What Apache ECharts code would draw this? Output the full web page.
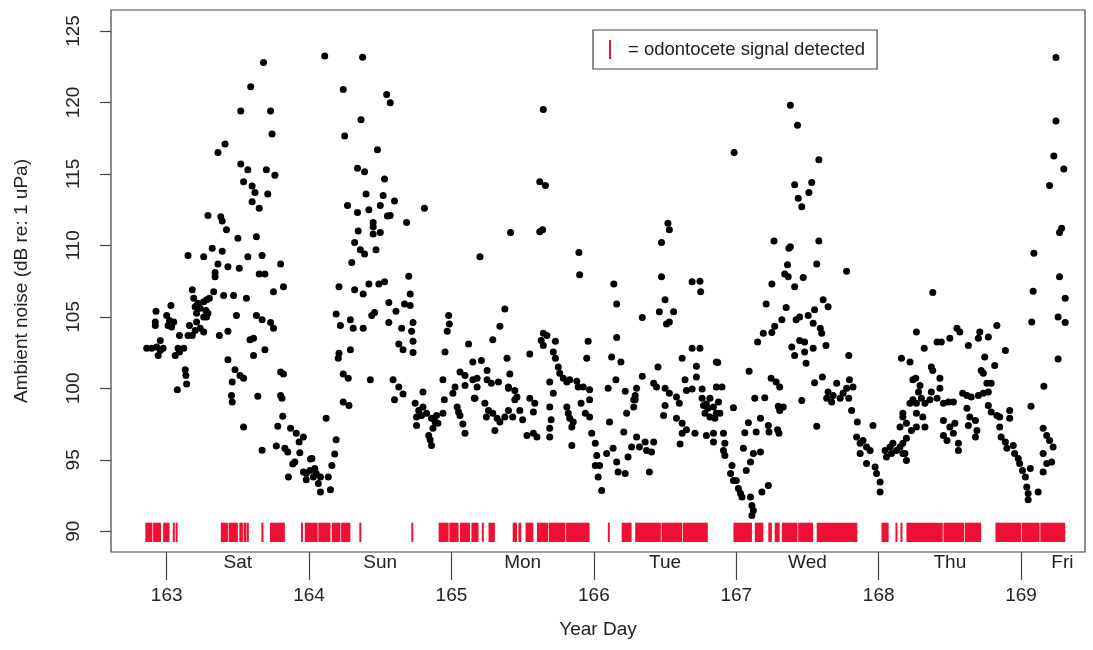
<!DOCTYPE html>
<html>
<head>
<meta charset="utf-8">
<script src="https://cdn.jsdelivr.net/npm/echarts@6/dist/echarts.min.js"></script>
<style>
    html, body { margin: 0; padding: 0; background: #fff; }
    #content { width: 1093px; height: 650px; }
</style>
</head>
<body>
<div id="content"></div>
<script>
// 坐标轴刻度
var xTicks = [163, 164, 165, 166, 167, 168, 169];
var yTicks = [90, 95, 100, 105, 110, 115, 120, 125];

// 星期标签及其位置（年日）
var dayNames = ["Sat", "Sun", "Mon", "Tue", "Wed", "Thu", "Fri"];
var dayPos = [163.5, 164.5, 165.5, 166.5, 167.5, 168.5, 169.29];

// 环境噪声 [年日, dB]
var pts163 = [
    [163.68,122.8],[163.59,121.1],[163.52,119.4],[163.73,119.4],[163.74,117.8],[163.41,117.1],[163.36,116.5],
    [163.52,115.7],[163.57,115.3],[163.70,115.3],[163.76,114.9],[163.54,114.45],[163.60,114.15],[163.62,113.7],
    [163.71,113.6],[163.60,113.05],[163.65,112.6],[163.29,112.1],[163.38,112.0],[163.39,111.7],[163.42,111.1],
    [163.50,110.5],[163.63,110.6],[163.15,109.3],[163.26,109.2],[163.32,109.8],[163.39,109.6],[163.36,108.7],
    [163.43,108.5],[163.51,108.4],[163.57,109.2],[163.67,109.3],[163.65,108.0],[163.69,108.0],[163.80,108.7],
    [163.34,108.1],[163.34,107.8],[163.75,106.75],[163.82,107.1],[163.18,106.9],[163.33,106.75],[163.40,106.5],
    [163.47,106.5],[163.56,106.3],[163.19,106.3],[163.22,105.95],[163.20,105.7],[163.235,105.6],[163.26,106.05],
    [163.28,106.2],[163.30,106.3],[163.275,105.45],[163.29,105.25],[163.21,105.25],[163.26,105.0],[163.28,105.0],
    [163.03,105.8],[162.925,105.4],[163.0,105.1],[163.02,104.75],[163.01,104.4],[163.05,104.65],[163.035,104.3],
    [162.92,104.65],[162.92,104.4],[163.16,104.4],[163.21,104.65],[163.235,104.2],[163.26,103.95],[163.2,104.05],
    [163.49,105.1],[163.63,105.1],[163.67,104.8],[163.73,104.6],[163.75,104.2],[163.37,103.7],[163.43,104.0],
    [163.09,103.7],[163.15,103.7],[163.18,103.7],[162.86,102.8],[162.895,102.8],[162.93,102.9],[162.955,102.65],
    [162.975,102.8],[162.94,102.3],[162.955,103.35],[163.06,102.3],[163.08,102.8],[163.12,102.8],[163.09,102.55],
    [163.585,103.4],[163.61,103.5],[163.61,102.3],[163.69,102.7],[163.43,102.0],[163.48,101.3],[163.515,100.9],
    [163.54,100.7],[163.46,100.45],[163.80,101.15],[163.82,101.0],[163.13,101.3],[163.135,100.9],[163.14,100.3],
    [163.075,99.9],[163.64,99.45],[163.455,99.5],[163.46,99.05],[163.80,99.5],[163.81,99.3],[163.815,98.05],
    [163.78,97.35],[163.87,97.2],[163.91,96.85],[163.96,96.6],[163.93,96.25],[163.54,97.3],[163.67,95.67],
    [163.77,95.97],[163.83,95.8],[163.85,95.55],[163.935,95.5],[163.885,94.7],[163.9,94.85],[163.855,93.8]
];
var pts164 = [
    [164.01,95.05],[163.96,94.15],[163.98,94.05],[164.005,94.25],[164.03,93.8],[164.05,94.05],[164.04,94.4],
    [164.065,93.35],[164.02,95.1],[163.98,93.6],[164.08,93.8],[164.08,92.75],[164.15,92.9],[164.135,93.8],
    [164.16,94.6],[164.18,95.4],[164.19,96.4],[164.12,97.9],[164.11,123.25],[164.376,123.16],[164.24,120.9],
    [164.545,120.55],[164.57,119.98],[164.365,118.8],[164.25,117.65],[164.48,116.7],[164.34,115.4],[164.39,115.15],
    [164.53,114.65],[164.40,113.6],[164.52,113.5],[164.60,113.1],[164.27,112.8],[164.34,112.3],[164.42,112.5],
    [164.50,112.8],[164.57,112.1],[164.55,112.05],[164.81,112.6],[164.685,111.6],[164.45,111.6],[164.45,111.3],
    [164.50,110.9],[164.45,110.8],[164.345,111.0],[164.32,110.2],[164.36,109.7],[164.39,109.4],[164.47,109.7],
    [164.30,108.8],[164.21,107.1],[164.32,106.9],[164.38,106.6],[164.42,107.3],[164.49,107.3],[164.53,107.45],
    [164.70,107.85],[164.71,106.6],[164.67,105.9],[164.71,105.8],[164.56,106.0],[164.61,105.4],[164.56,104.6],
    [164.46,105.3],[164.44,105.1],[164.19,105.2],[164.22,104.4],[164.29,104.8],[164.31,104.2],[164.38,104.2],
    [164.65,104.2],[164.73,104.6],[164.72,104.0],[164.73,103.3],[164.73,102.5],[164.63,103.1],[164.66,102.7],
    [164.98,105.1],[164.985,104.5],[164.97,104.0],[164.955,102.55],[164.94,100.6],[164.21,102.45],[164.205,102.1],
    [164.29,102.7],[164.24,101.0],[164.275,100.7],[164.43,100.6],[164.24,99.05],[164.28,98.8],[164.59,100.6],
    [164.63,100.1],[164.66,99.6],[164.60,99.2],[164.80,99.75],[164.745,98.95],[164.77,98.45],[164.80,98.7],
    [164.825,98.25],[164.755,98.0],[164.79,98.1],[164.755,97.4],[164.86,97.9],[164.885,97.65],[164.905,97.55],
    [164.87,97.2],[164.895,98.1],[164.84,96.7],[164.85,96.4],[164.86,96.0],[164.95,99.2],[164.94,98.25]
];
var pts165 = [
    [165.415,110.9],[165.20,109.2],[165.375,105.55],[165.34,104.35],[165.29,103.4],[165.39,102.1],[165.41,101.0],
    [165.40,100.1],[165.46,99.4],[165.12,103.1],[165.15,101.85],[165.21,101.95],[165.25,101.25],[165.18,100.7],
    [165.25,100.6],[165.28,100.35],[165.33,100.45],[165.06,101.15],[165.095,100.9],[165.025,100.1],[165.095,100.2],
    [165.15,100.6],[165.18,100.1],[165.165,99.3],[165.01,99.65],[165.04,98.7],[165.06,98.1],[165.095,96.85],
    [165.08,97.5],[165.05,98.35],[165.16,99.3],[165.235,98.95],[165.26,98.45],[165.245,98.0],[165.29,98.25],
    [165.32,97.9],[165.34,97.65],[165.375,98.0],[165.40,98.45],[165.43,98.0],[165.305,97.05],[165.445,99.2],
    [165.40,100.0],[165.645,119.5],[165.62,114.45],[165.66,114.2],[165.62,110.95],[165.64,111.1],[165.895,109.5],
    [165.90,107.95],[165.645,103.85],[165.67,103.7],[165.63,103.35],[165.645,103.0],[165.73,103.3],[165.55,102.4],
    [165.96,103.3],[165.95,102.1],[165.715,102.55],[165.73,102.1],[165.75,101.5],[165.76,101.05],[165.785,100.7],
    [165.81,100.45],[165.83,100.6],[165.88,100.5],[165.89,100.1],[165.925,100.1],[165.97,99.9],[165.97,99.2],
    [165.50,97.8],[165.53,96.7],[165.575,96.85],[165.585,98.95],[165.575,98.35],[165.60,96.6],[165.69,96.6],
    [165.55,99.3],[165.69,100.45],[165.715,99.65],[165.69,98.7],[165.70,97.8],[165.69,97.2],[165.81,98.7],
    [165.82,98.25],[165.83,97.9],[165.855,97.65],[165.845,97.3],[165.845,96.0],[165.91,98.95],[165.94,98.25],
    [165.97,98.0],[165.985,96.85],[165.48,98.45],[165.445,99.85]
];
var pts166 = [
    [166.01,96.15],[166.02,95.3],[166.04,94.6],[166.01,94.6],[166.03,93.8],[166.055,92.85],[166.09,95.45],
    [166.135,95.8],[166.17,94.15],[166.22,94.05],[166.16,94.85],[166.24,95.2],[166.265,95.9],[166.32,95.9],
    [166.36,96.25],[166.37,95.65],[166.405,95.55],[166.39,94.15],[166.42,96.25],[166.30,96.6],[166.21,96.95],
    [166.11,97.65],[166.23,98.25],[166.28,98.7],[166.29,99.2],[166.14,107.3],[166.16,105.9],[166.52,111.55],
    [166.53,111.1],[166.475,110.2],[166.475,107.8],[166.69,107.45],[166.745,107.5],[166.75,106.75],[166.50,106.2],
    [166.46,105.35],[166.56,105.35],[166.51,104.5],[166.53,104.65],[166.34,104.95],[166.16,103.55],[166.125,102.2],
    [166.19,101.85],[166.155,100.6],[166.10,100.0],[166.22,99.8],[166.34,100.85],[166.30,100.0],[166.28,99.2],
    [166.29,99.5],[166.45,101.5],[166.42,100.35],[166.44,100.1],[166.50,100.0],[166.53,99.65],[166.58,99.4],
    [166.60,98.95],[166.62,102.1],[166.72,101.55],[166.72,100.8],[166.69,102.8],[166.745,102.8],[166.64,100.6],
    [166.65,99.85],[166.69,99.95],[166.76,99.95],[166.79,98.9],[166.815,99.3],[166.86,101.85],[166.86,100.1],
    [166.50,98.8],[166.49,98.1],[166.58,97.9],[166.62,97.55],[166.62,96.85],[166.65,97.1],[166.71,96.85],
    [166.79,96.7],[166.84,96.25],[166.605,96.1],[166.76,99.3],[166.77,98.8],[166.80,98.6],[166.84,98.7],
    [166.86,98.25],[166.885,98.25],[166.875,99.05],[166.90,100.1],[166.85,97.9],[166.815,98.0],[166.78,98.25],
    [166.84,96.85],[166.91,96.85],[166.92,96.15],[166.91,95.65],[166.92,95.3],[166.97,94.6],[166.96,94.05],
    [166.98,93.55],[166.87,101.8],[166.985,116.5],[166.98,98.65]
];
var pts167 = [
    [167.00,93.55],[167.015,93.0],[167.03,92.65],[167.04,92.4],[167.10,92.4],[167.11,91.8],[167.12,91.45],
    [167.11,91.1],[167.18,92.75],[167.225,93.2],[167.05,95.8],[167.10,94.85],[167.12,95.45],[167.17,95.55],
    [167.07,94.25],[167.38,119.8],[167.43,118.4],[167.58,116.0],[167.41,114.25],[167.53,114.4],[167.51,113.7],
    [167.435,113.3],[167.46,112.7],[167.265,110.3],[167.38,109.9],[167.37,109.8],[167.58,110.3],[167.565,108.7],
    [167.775,108.2],[167.36,108.65],[167.34,108.0],[167.365,107.8],[167.25,107.3],[167.41,107.1],[167.47,107.75],
    [167.21,105.9],[167.35,105.65],[167.445,105.0],[167.42,104.8],[167.505,105.1],[167.55,105.5],[167.61,106.2],
    [167.645,105.7],[167.32,104.8],[167.27,104.35],[167.19,103.85],[167.25,103.9],[167.15,103.25],[167.54,104.55],
    [167.59,104.2],[167.60,103.85],[167.445,103.35],[167.48,103.25],[167.39,102.9],[167.41,102.3],[167.48,102.55],
    [167.54,102.8],[167.49,101.75],[167.63,103.0],[167.09,101.2],[167.245,100.7],[167.28,100.45],[167.305,100.1],
    [167.79,102.3],[167.795,100.6],[167.82,100.1],[167.775,100.0],[167.75,99.65],[167.705,100.35],[167.73,99.3],
    [167.68,99.5],[167.645,99.75],[167.635,99.3],[167.67,99.05],[167.79,99.3],[167.81,98.45],[167.85,97.65],
    [167.55,100.4],[167.605,100.8],[167.46,99.15],[167.565,97.35],[167.13,99.3],[167.20,99.35],[167.305,98.45],
    [167.295,98.75],[167.33,98.7],[167.17,97.9],[167.085,97.6],[167.06,96.9],[167.14,96.95],[167.225,97.4],
    [167.23,96.95],[167.30,96.85],[167.29,97.1],[167.96,97.4],[167.845,96.6],[167.87,96.15],[167.89,96.35],
    [167.915,95.9],[167.94,95.65],[167.87,95.45],[167.915,94.75],[167.975,94.5],[167.985,94.05]
];
var pts168 = [
    [168.01,93.45],[168.01,92.75],[168.045,95.65],[168.08,95.9],[168.10,96.15],[168.055,95.2],[168.09,95.45],
    [168.125,95.65],[168.15,95.9],[168.17,95.45],[168.195,94.95],[168.15,97.3],[168.17,98.25],[168.22,101.85],
    [168.265,103.95],[168.24,100.6],[168.24,99.2],[168.265,98.25],[168.265,97.3],[168.195,97.55],[168.16,102.1],
    [168.38,106.7],[168.32,102.8],[168.41,103.25],[168.44,103.25],[168.50,103.5],[168.55,104.2],[168.57,103.95],
    [168.63,103.0],[168.70,103.5],[168.71,103.95],[168.77,103.6],[168.83,104.4],[168.89,102.65],[168.745,102.2],
    [168.815,101.6],[168.26,100.7],[168.37,101.5],[168.38,101.25],[168.43,100.7],[168.43,100.0],[168.37,99.75],
    [168.29,100.2],[168.28,99.75],[168.22,98.95],[168.265,98.95],[168.30,99.3],[168.325,98.95],[168.36,99.2],
    [168.41,99.3],[168.455,98.95],[168.49,99.05],[168.525,99.05],[168.59,99.65],[168.62,99.5],[168.65,99.4],
    [168.70,99.5],[168.735,99.65],[168.77,99.75],[168.79,100.35],[168.735,101.05],[168.76,100.35],[168.72,101.25],
    [168.17,98.0],[168.23,97.05],[168.195,96.5],[168.17,96.15],[168.185,95.45],[168.31,98.0],[168.325,97.3],
    [168.455,97.75],[168.50,97.3],[168.535,97.55],[168.525,96.85],[168.455,96.7],[168.48,96.35],[168.56,96.15],
    [168.56,95.65],[168.62,98.6],[168.64,98.0],[168.63,97.4],[168.68,97.75],[168.69,97.05],[168.68,96.6],
    [168.77,98.8],[168.79,98.35],[168.83,98.1],[168.85,98.0],[168.92,98.45],[168.92,97.9],[168.85,97.3],
    [168.86,96.6],[168.89,96.25],[168.90,95.8],[168.945,96.0],[168.955,95.45],[168.98,95.1],[168.99,94.75]
];
var pts169 = [
    [169.01,94.25],[169.03,93.8],[169.04,93.1],[169.05,92.65],[169.05,92.2],[169.12,92.75],[169.155,97.2],
    [169.18,96.7],[169.20,96.35],[169.225,95.9],[169.215,94.85],[169.155,95.45],[169.18,94.75],[169.155,94.15],
    [169.065,94.4],[169.245,123.15],[169.245,118.7],[169.23,116.25],[169.30,115.35],[169.20,114.2],[169.285,111.2],
    [169.27,110.9],[169.09,109.45],[169.27,107.8],[169.085,106.8],[169.075,104.65],[169.31,106.3],[169.26,105.0],
    [169.31,104.6],[169.26,102.05],[169.16,100.15],[169.07,98.75]
];

// 检测到齿鲸信号的时间段 [开始, 结束]
var detections = [
    [162.85,162.90],[162.905,162.96],[162.975,163.02],[163.05,163.05],[163.07,163.07],
    [163.38,163.43],[163.435,163.50],[163.51,163.535],[163.54,163.56],[163.57,163.57],[163.665,163.68],[163.725,163.83],
    [163.95,163.95],[163.97,164.06],[164.065,164.15],[164.16,164.22],[164.225,164.29],[164.36,164.36],
    [164.725,164.725],
    [164.91,164.98],[164.985,165.05],[165.06,165.13],[165.14,165.19],[165.22,165.22],[165.26,165.305],
    [165.43,165.46],[165.47,165.49],[165.52,165.575],[165.60,165.68],[165.685,165.80],[165.805,165.97],
    [166.105,166.105],[166.195,166.265],[166.29,166.47],[166.475,166.62],[166.625,166.80],
    [166.98,167.11],[167.13,167.19],[167.225,167.25],[167.27,167.305],[167.32,167.43],[167.435,167.54],[167.565,167.85],
    [168.02,168.07],[168.125,168.125],[168.16,168.16],[168.195,168.45],[168.455,168.60],[168.605,168.72],
    [168.82,169.00],[169.005,169.13],[169.135,169.31]
];

var X_MIN = 162.609, X_MAX = 169.449;
var Y_MIN = 88.55, Y_MAX = 126.47;
var RUG_LOW = 89.25, RUG_HIGH = 90.6;
var FONT = "Liberation Sans";
var RED = "#ee1133";
var legendName = "= odontocete signal detected";

var noise = [].concat(pts163, pts164, pts165, pts166, pts167, pts168, pts169);
var dayData = dayPos.map(function(p, i) { return [p, Y_MIN, i]; });

window.onload = function() {
    var myChart = echarts.init(document.getElementById("content"), null, { renderer: "canvas" });
    myChart.setOption({
        animation: false,
        backgroundColor: "#ffffff",
        textStyle: { fontFamily: FONT },
        grid: {
            left: 111, right: 8, top: 10, bottom: 98,
            show: true, borderColor: "#444", borderWidth: 1.2, backgroundColor: "transparent"
        },
        legend: {
            left: 593, top: 30,
            orient: "horizontal",
            data: [{ name: legendName, icon: "rect" }],
            itemWidth: 2, itemHeight: 19,
            padding: [10, 12, 10, 16],
            borderColor: "#444", borderWidth: 1.2,
            selectedMode: false,
            textStyle: { fontFamily: FONT, fontSize: 18.5, color: "#222", padding: [0, 0, 0, 12] }
        },
        xAxis: {
            type: "value", min: X_MIN, max: X_MAX,
            name: "Year Day", nameLocation: "middle", nameGap: 68,
            nameTextStyle: { fontFamily: FONT, fontSize: 19, color: "#222" },
            axisLine: { show: false },
            splitLine: { show: false },
            axisTick: { show: true, length: 28, customValues: xTicks, lineStyle: { color: "#444", width: 1.2 } },
            axisLabel: { customValues: xTicks, margin: 34, fontSize: 19, color: "#222", fontFamily: FONT }
        },
        yAxis: {
            type: "value", min: Y_MIN, max: Y_MAX,
            name: "Ambient noise (dB re: 1 uPa)", nameLocation: "middle", nameGap: 80,
            nameTextStyle: { fontFamily: FONT, fontSize: 19, color: "#222" },
            axisLine: { show: false },
            splitLine: { show: false },
            axisTick: { show: true, length: 11, customValues: yTicks, lineStyle: { color: "#444", width: 1.2 } },
            axisLabel: { customValues: yTicks, rotate: 90, margin: 28, fontSize: 19, color: "#222", fontFamily: FONT }
        },
        series: [
            {
                // 检测标记（红色竖线）
                name: legendName,
                type: "custom",
                itemStyle: { color: RED },
                data: detections,
                encode: { x: [0, 1] },
                renderItem: function(params, api) {
                    var a = api.coord([api.value(0), RUG_HIGH]);
                    var b = api.coord([api.value(1), RUG_LOW]);
                    var w = b[0] - a[0];
                    var x = a[0];
                    if (w < 2) { x = a[0] - 1; w = 2; }
                    return {
                        type: "rect",
                        shape: { x: x, y: a[1], width: w, height: b[1] - a[1] },
                        style: { fill: RED }
                    };
                }
            },
            {
                name: "noise",
                type: "scatter",
                data: noise,
                symbol: "circle",
                symbolSize: 7,
                itemStyle: { color: "#000", opacity: 1 }
            },
            {
                // 星期标签
                name: "days",
                type: "custom",
                data: dayData,
                encode: { x: 0, y: 1 },
                clip: false,
                renderItem: function(params, api) {
                    var p = api.coord([api.value(0), api.value(1)]);
                    return {
                        type: "text",
                        x: p[0], y: p[1] + 1,
                        style: {
                            text: dayNames[api.value(2)],
                            fill: "#222",
                            font: "19px " + FONT,
                            textAlign: "center",
                            textVerticalAlign: "top"
                        }
                    };
                }
            }
        ]
    });
};
</script>
</body>
</html>
